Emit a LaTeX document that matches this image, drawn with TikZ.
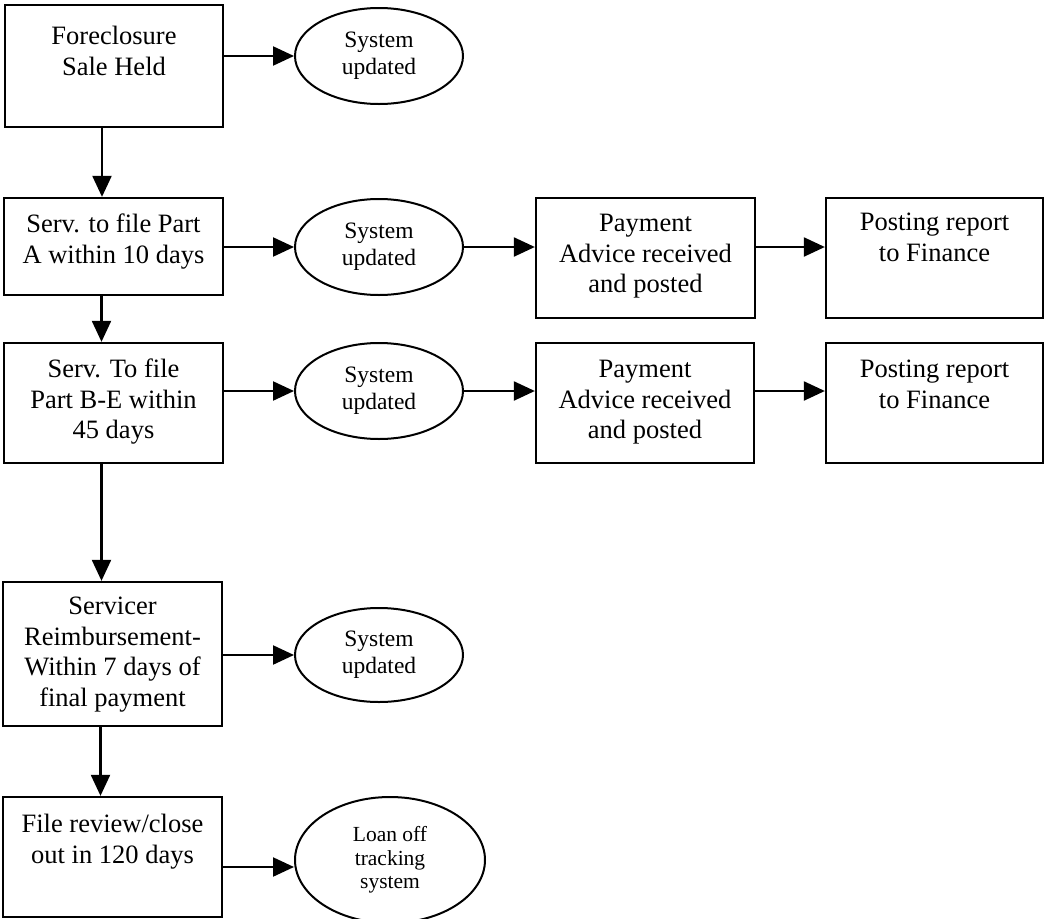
\documentclass[tikz,border=0pt]{standalone}
\usepackage{fontspec}
\setmainfont{Liberation Serif}
\usetikzlibrary{shapes.geometric,arrows.meta}
\begin{document}
\begin{tikzpicture}[x=1pt,y=-1pt,
  box/.style={draw,line width=2.3pt,inner sep=0pt},
  oval/.style={draw,ellipse,line width=2pt,inner sep=0pt,align=center,
    minimum width=168pt,minimum height=96pt,font=\fontsize{23.5}{27}\selectfont},
  txt/.style={anchor=north,inner sep=0pt,align=center,font=\fontsize{26.5}{30.5}\selectfont},
  arr/.style={line width=2.2pt,-{Triangle[length=21pt,width=19pt]}}]
\useasboundingbox (0,0) rectangle (1045,919);
% left column boxes
\node[box,minimum width=218pt,minimum height=122pt] (b1) at (114,66) {};
\node[txt] (t1) at (114,26) {Foreclosure\\Sale Held};
\node[box,minimum width=219pt,minimum height=97pt] (b2) at (113.5,246.5) {};
\node[txt] (t2) at (113.5,214) {Serv. to file Part\\A within 10 days};
\node[box,minimum width=219pt,minimum height=120pt] (b3) at (113.5,403) {};
\node[txt] (t3) at (113.5,359) {Serv. To file\\Part B-E within\\45 days};
\node[box,minimum width=219pt,minimum height=144pt] (b4) at (112.5,654) {};
\node[txt] (t4) at (112.5,597) {Servicer\\Reimbursement-\\Within 7 days of\\final payment};
\node[box,minimum width=219pt,minimum height=120pt] (b5) at (112.5,857) {};
\node[txt] (t5) at (112.5,814) {File review/close\\out in 120 days};
% ellipses
\node[oval] (e1) at (379,56) {System\\updated};
\node[oval] (e2) at (379,247) {System\\updated};
\node[oval] (e3) at (379,391) {System\\updated};
\node[oval,minimum height=94pt] (e4) at (379,655) {System\\updated};
\node[oval,minimum width=190pt,minimum height=126pt,font=\fontsize{21.5}{23.5}\selectfont] (e5) at (390,860) {Loan off\\tracking\\system};
% right boxes
\node[box,minimum width=219pt,minimum height=120pt] (p1) at (645.5,258) {};
\node[txt] (tp1) at (645.5,214) {Payment\\Advice received\\and posted};
\node[box,minimum width=217pt,minimum height=120pt] (q1) at (934.5,258) {};
\node[txt] (tq1) at (934.5,213) {Posting report\\to Finance};
\node[box,minimum width=218pt,minimum height=120pt] (p2) at (645,403) {};
\node[txt] (tp2) at (645,360) {Payment\\Advice received\\and posted};
\node[box,minimum width=217pt,minimum height=120pt] (q2) at (934.5,403) {};
\node[txt] (tq2) at (934.5,360) {Posting report\\to Finance};
% horizontal connectors
\draw[arr] (b1.east |- e1.west) -- (e1.west);
\draw[arr] (b2.east |- e2.west) -- (e2.west);
\draw[arr] (e2.east) -- (e2.east -| p1.west);
\draw[arr] (p1.east |- e2.east) -- (q1.west |- e2.east);
\draw[arr] (b3.east |- e3.west) -- (e3.west);
\draw[arr] (e3.east) -- (e3.east -| p2.west);
\draw[arr] (p2.east |- e3.east) -- (q2.west |- e3.east);
\draw[arr] (b4.east |- e4.west) -- (e4.west);
\draw[arr] ([yshift=-10pt]b5.east) -- ([yshift=-10pt]b5.east -| e5.west);
% vertical connectors
\draw[arr] ([xshift=-12pt]b1.south) -- ([xshift=-12pt]b1.south |- b2.north);
\draw[arr] ([xshift=-12pt]b2.south) -- ([xshift=-12pt]b2.south |- b3.north);
\draw[arr] ([xshift=-12pt]b3.south) -- ([xshift=-12pt]b3.south |- b4.north);
\draw[arr] ([xshift=-12pt]b4.south) -- ([xshift=-12pt]b4.south |- b5.north);
\end{tikzpicture}
\end{document}
